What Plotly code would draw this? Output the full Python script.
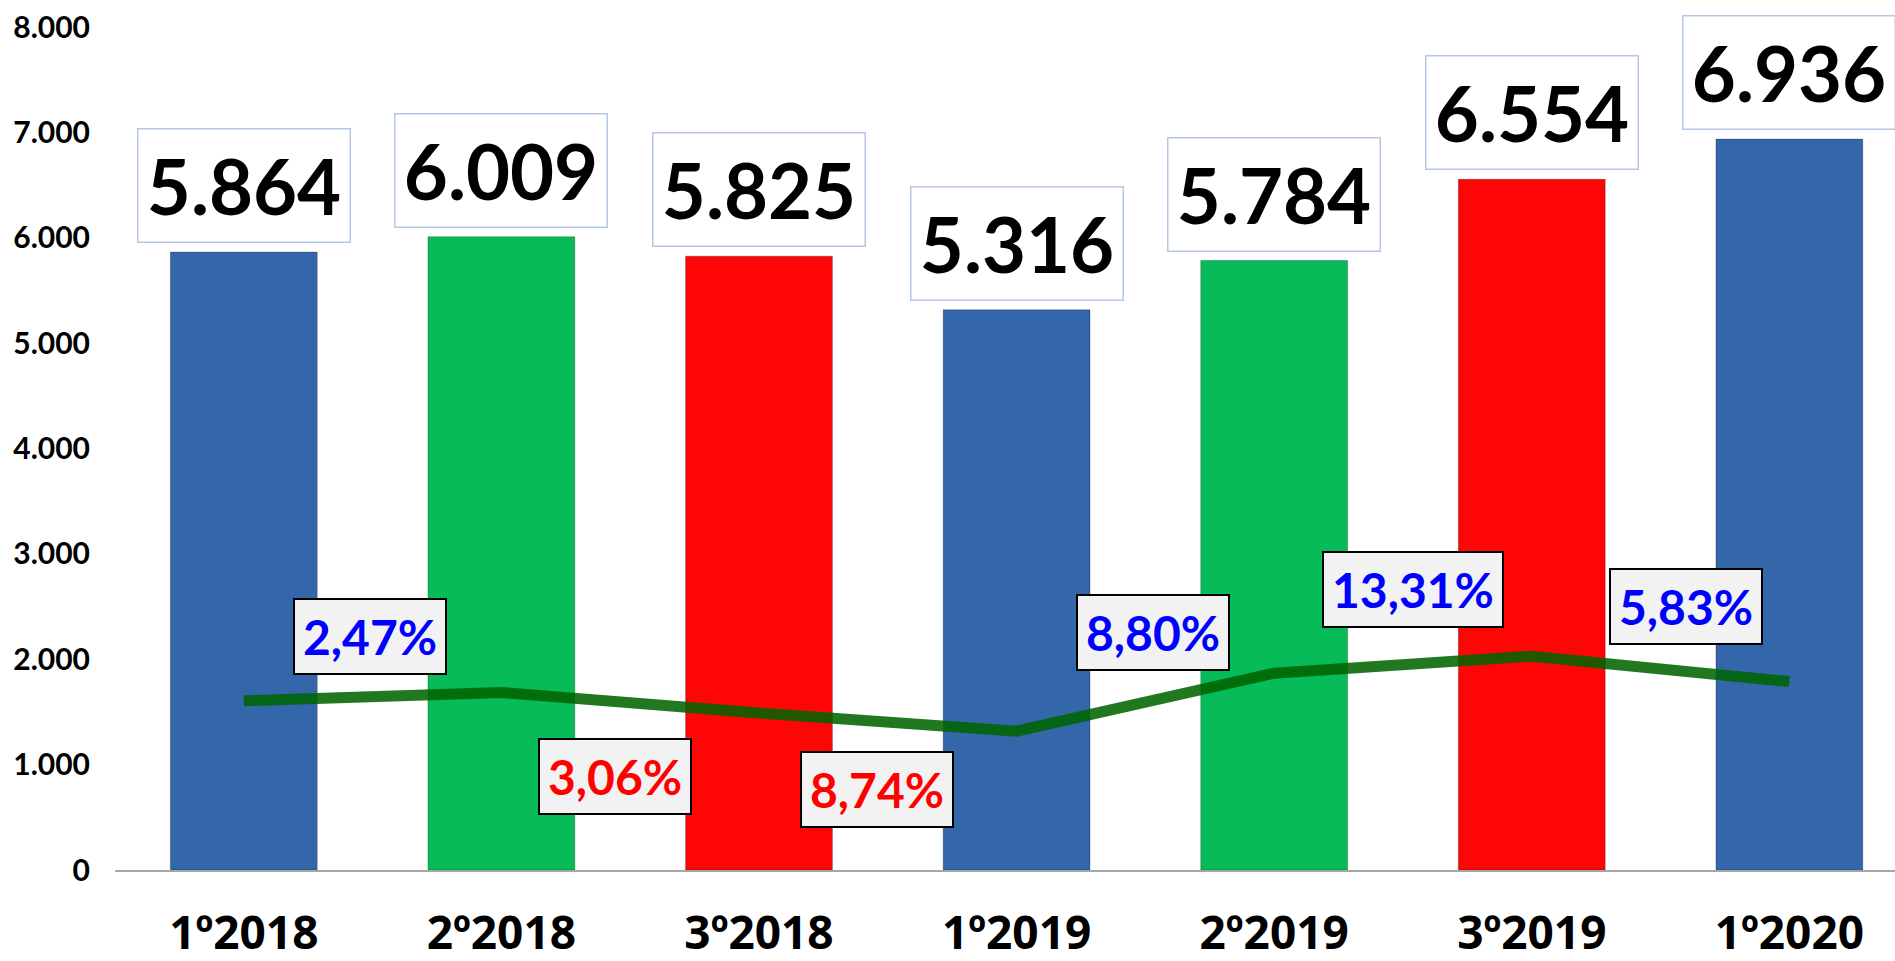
import plotly.graph_objects as go

# ---- data ----
categories = ["1º2018", "2º2018", "3º2018", "1º2019", "2º2019", "3º2019", "1º2020"]
bar_values = [5864, 6009, 5825, 5316, 5784, 6554, 6936]
bar_colors = ["#3467aa", "#07bb58", "#ff0606", "#3467aa", "#07bb58", "#ff0606", "#3467aa"]
line_values = [1605, 1685, 1490, 1318, 1868, 2029, 1788]
pct_values = [2.47, -3.06, -8.74, 8.80, 13.31, 5.83]
# label placement (category index, y in axis units)
pct_label_x = [0.49, 1.44, 2.46, 3.53, 4.54, 5.60]
pct_label_y = [2212, 883, 768, 2258, 2659, 2499]
y_ticks = [0, 1000, 2000, 3000, 4000, 5000, 6000, 7000, 8000]

FONT = "Lato"


def fmt_thousands(v):
    return f"{v:,.0f}".replace(",", ".")


fig = go.Figure()

fig.add_trace(go.Bar(
    x=categories, y=bar_values,
    marker=dict(color=bar_colors, line=dict(color="rgba(0,0,0,0.25)", width=1)),
    showlegend=False, hoverinfo="skip",
))

fig.add_trace(go.Scatter(
    x=categories, y=line_values, mode="lines",
    line=dict(color="rgba(0,100,0,0.87)", width=11),
    showlegend=False, hoverinfo="skip",
))

annotations = []
for c, v in zip(categories, bar_values):
    annotations.append(dict(
        x=c, y=v, xref="x", yref="y", yanchor="bottom", yshift=9,
        text=fmt_thousands(v), showarrow=False,
        font=dict(family=FONT, size=76, color="black", weight="bold"),
        bgcolor="white", bordercolor="#b4c7e7", borderwidth=1.5,
        width=209, height=110,
    ))

for px, py, p in zip(pct_label_x, pct_label_y, pct_values):
    txt = f"{abs(p):.2f}".replace(".", ",") + "%"
    annotations.append(dict(
        x=px, y=py, xref="x", yref="y",
        text=txt, showarrow=False,
        font=dict(family=FONT, size=48, color="#0000ff" if p >= 0 else "#ff0000", weight="bold"),
        bgcolor="#f2f2f2", bordercolor="black", borderwidth=2, borderpad=8,
    ))

fig.update_layout(
    width=1895, height=961,
    margin=dict(l=115, r=0, t=27, b=91, autoexpand=False),
    paper_bgcolor="white", plot_bgcolor="white",
    bargap=0.43,
    annotations=annotations,
    xaxis=dict(
        type="category", range=[-0.5, 6.41], automargin=False,
        showline=True, linecolor="#a6a6a6", linewidth=2,
        showgrid=False, ticks="", ticklabelstandoff=22,
        tickfont=dict(family="Noto Sans", size=46, color="black", weight="bold"),
    ),
    yaxis=dict(
        range=[0, 8000], tickvals=y_ticks, automargin=False,
        ticktext=[fmt_thousands(t) for t in y_ticks],
        showgrid=False, zeroline=False, showline=False, ticks="",
        ticklabelstandoff=24,
        tickfont=dict(family=FONT, size=30, color="black", weight="bold"),
    ),
)

fig.write_html("out.html", config={"displayModeBar": False},
               post_script="document.body.style.margin='0';")
